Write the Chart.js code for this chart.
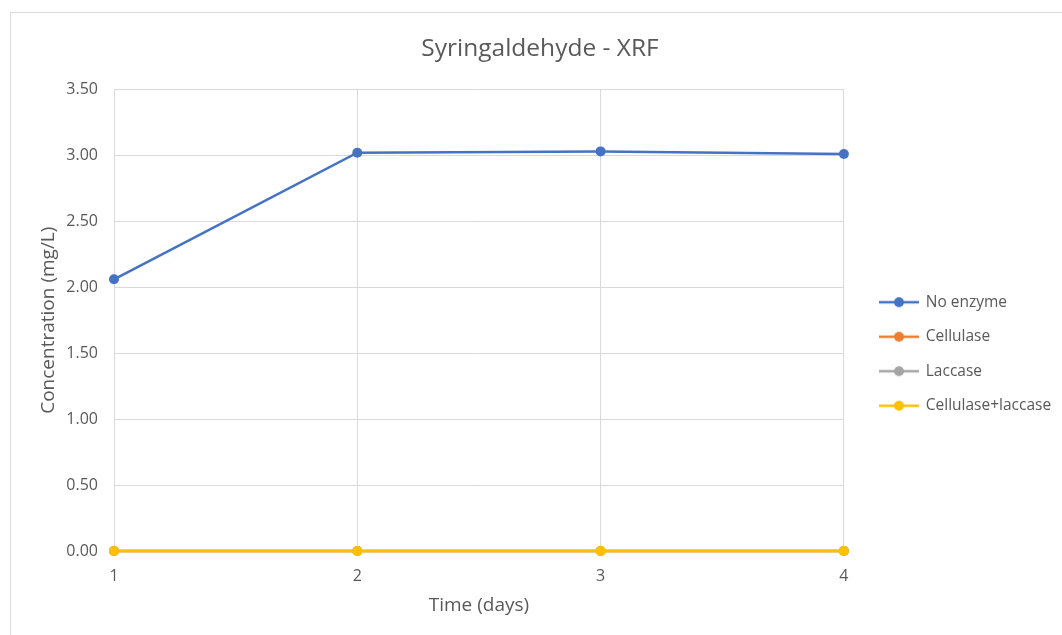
<!DOCTYPE html>
<html>
<head>
<meta charset="utf-8">
<script src="https://cdn.jsdelivr.net/npm/chart.js@4"></script>
<style>
  html, body { margin: 0; padding: 0; background: #fff; overflow: hidden; }
  .frame {
    position: absolute; left: 10px; top: 12px;
    width: 1060px; height: 630px;
    border: 1px solid #d9d9d9; background: #fff;
  }
  .frame canvas { position: absolute; left: 0; top: 0; }
</style>
</head>
<body>
<div class="frame"><canvas id="grafico" width="1051" height="622"></canvas></div>
<script>
// DADOS
const dias = ['1', '2', '3', '4'];
const noEnzyme = [2.06, 3.02, 3.03, 3.01];
const cellulase = [0, 0, 0, 0];
const laccase = [0, 0, 0, 0];
const cellLaccase = [0, 0, 0, 0];
const yTicks = [0, 0.5, 1, 1.5, 2, 2.5, 3, 3.5];
const series = ['No enzyme', 'Cellulase', 'Laccase', 'Cellulase+laccase'];
const cores = ['#4472C4', '#ED7D31', '#A5A5A5', '#FFC000'];

const fonte = "'Open Sans', sans-serif";
const cinza = '#595959';

// marcador da legenda: linha com ponto
function marcador(cor) {
    const c = document.createElement('canvas');
    c.width = 40; c.height = 12;
    const ctx = c.getContext('2d');
    ctx.strokeStyle = cor; ctx.lineWidth = 2.5;
    ctx.beginPath(); ctx.moveTo(0, 6); ctx.lineTo(40, 6); ctx.stroke();
    ctx.fillStyle = cor;
    ctx.beginPath(); ctx.arc(20, 6, 5, 0, Math.PI * 2); ctx.fill();
    return c;
}

function serie(i, dados) {
    return {
        label: series[i],
        data: dados,
        borderColor: cores[i],
        backgroundColor: cores[i],
        borderWidth: 2.5,
        pointStyle: 'circle',
        pointRadius: 5,
        pointHoverRadius: 5,
        pointBorderWidth: 0,
        tension: 0,
        clip: false,
        order: 3 - i
    };
}

// posiciona a legenda como no Excel
const ajusteLegenda = {
    id: 'ajusteLegenda',
    afterLayout(chart) {
        const lg = chart.legend;
        const pad = lg.options.labels.padding;
        const dx = 869 - (lg.left + pad);
        lg.left += dx; lg.right += dx;
        const dy = 281.5 - (lg.top + pad);
        lg.top += dy; lg.bottom += dy;
    }
};

const el = document.getElementById('grafico');
new Chart(el, {
    type: 'line',
    data: {
        labels: dias,
        datasets: [
            serie(0, noEnzyme),
            serie(1, cellulase),
            serie(2, laccase),
            serie(3, cellLaccase)
        ]
    },
    options: {
        responsive: false,
        animation: false,
        layout: { padding: { left: 25, right: 18, top: 0, bottom: 0 } },
        plugins: {
            title: {
                display: true,
                text: 'Syringaldehyde - XRF',
                color: cinza,
                font: { family: fonte, size: 24.5, weight: 'normal' },
                padding: { top: 21, bottom: 26 }
            },
            legend: {
                position: 'right',
                align: 'start',
                labels: {
                    usePointStyle: true,
                    pointStyleWidth: 38,
                    color: cinza,
                    font: { family: fonte, size: 15.5 },
                    padding: 19,
                    generateLabels: (chart) => chart.data.datasets.map((d, i) => ({
                        text: d.label,
                        pointStyle: marcador(cores[i]),
                        fontColor: cinza,
                        lineWidth: 0,
                        datasetIndex: i
                    }))
                }
            },
            tooltip: { enabled: false }
        },
        scales: {
            x: {
                type: 'category',
                offset: false,
                grid: { color: '#d9d9d9', offset: false, drawTicks: false },
                border: { display: false },
                ticks: { color: cinza, font: { family: fonte, size: 16 }, padding: 16 },
                title: {
                    display: true, text: 'Time (days)', color: cinza,
                    font: { family: fonte, size: 19 }, padding: { top: 6, bottom: 18 }
                },
                afterFit: (s) => { s.height = 84; }
            },
            y: {
                min: 0, max: 3.5,
                grid: { color: '#d9d9d9', drawTicks: false },
                border: { display: false },
                afterBuildTicks: (s) => { s.ticks = yTicks.map(v => ({ value: v })); },
                ticks: {
                    color: cinza, padding: 16,
                    font: { family: fonte, size: 16 },
                    callback: (v) => v.toFixed(2)
                },
                title: {
                    display: true, text: 'Concentration (mg/L)', color: cinza,
                    font: { family: fonte, size: 19 }, padding: { top: 1, bottom: 6 }
                },
                afterFit: (s) => { s.width = 78; }
            }
        }
    },
    plugins: [ajusteLegenda]
});
</script>
</body>
</html>
